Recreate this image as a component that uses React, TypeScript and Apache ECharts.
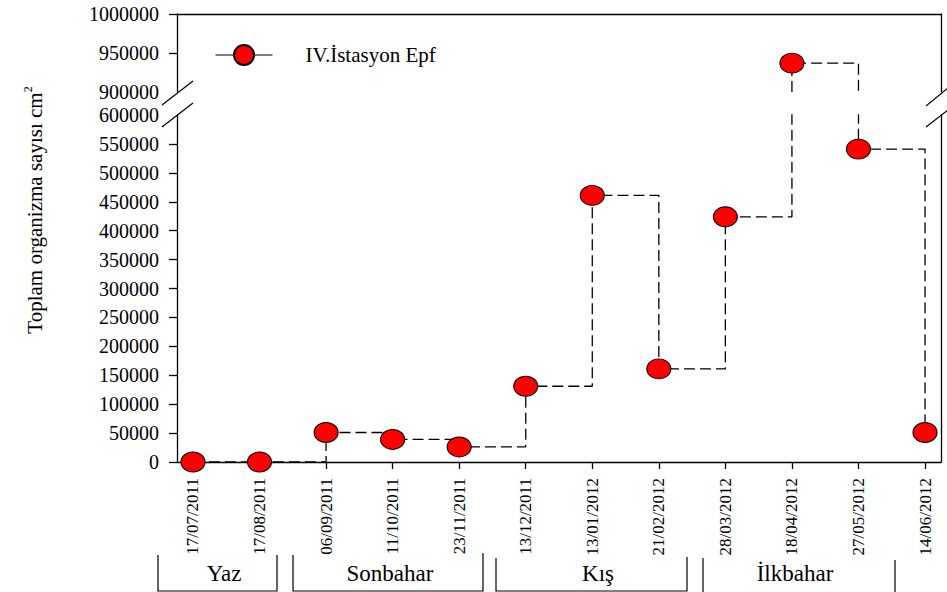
import React, { useEffect, useRef } from "react";
import * as echarts from "echarts";

const dates = [
  "17/07/2011", "17/08/2011", "06/09/2011", "11/10/2011", "23/11/2011", "13/12/2011",
  "13/01/2012", "21/02/2012", "28/03/2012", "18/04/2012", "27/05/2012", "14/06/2012",
];
const values = [0, 0, 51000, 39000, 26000, 131000, 461000, 161000, 424000, 937000, 541000, 51000];
const upperTickValues = [950000, 1000000];
const lowerTickValues = [0, 50000, 100000, 150000, 200000, 250000, 300000, 350000, 400000, 450000, 500000, 550000];
const seriesName = "IV.İstasyon Epf";
const seasons = ["Yaz", "Sonbahar", "Kış", "İlkbahar"];
const seasonCenters = [224, 390, 598, 795];
const yTitle = "Toplam organizma sayısı cm";
const yTitleSup = "2";

const FONT = "Liberation Serif";
const ELLIPSE = "path://M0,10a12,10 0 1,0 24,0a12,10 0 1,0 -24,0z";

export default function App() {
  const ref = useRef<HTMLDivElement>(null);
  useEffect(() => {
    if (!ref.current) return;
    const chart = echarts.init(ref.current, null, { renderer: "svg" });
    const data = values.map((v, i) => [i, v]);
    const idx = dates.map((_, i) => i);
    const xmin = -0.24;
    const xmax = 11.24;
    const lineStyle = { color: "#000", width: 1.3, type: [11, 5] as any };
    const itemStyle = { color: "#ff0000", borderColor: "#000", borderWidth: 1 };
    const axisLineStyle = { color: "#000", width: 1.3 };

    const brackets = [
      [[158, 555], [158, 591], [277, 591], [277, 555]],
      [[293, 555], [293, 591], [483, 591], [483, 553]],
      [[496, 558], [496, 591], [687, 591], [687, 557]],
      [[703, 558], [703, 593]],
      [[895, 560], [895, 593]],
    ];

    const graphics: any[] = [];
    brackets.forEach((pts) =>
      graphics.push({
        type: "polyline",
        shape: { points: pts },
        style: { stroke: "#000", fill: "none", lineWidth: 1.2 },
        silent: true,
      })
    );
    seasons.forEach((s, i) =>
      graphics.push({
        type: "text",
        x: seasonCenters[i],
        y: 573,
        style: {
          text: s,
          fontSize: 23,
          fontFamily: FONT,
          fill: "#000",
          textAlign: "center",
          textVerticalAlign: "middle",
        },
      })
    );
    const breaks = [
      [162, 105, 193, 81],
      [162, 127, 193, 103],
      [926, 106, 948, 88],
      [926, 127, 948, 110],
    ];
    breaks.forEach((b) =>
      graphics.push({
        type: "line",
        shape: { x1: b[0], y1: b[1], x2: b[2], y2: b[3] },
        style: { stroke: "#000", lineWidth: 1.2 },
        silent: true,
      })
    );
    graphics.push({
      type: "text",
      x: 35,
      y: 210,
      rotation: Math.PI / 2,
      style: {
        text: `{a|${yTitle}}{b|${yTitleSup}}`,
        fill: "#000",
        textAlign: "center",
        textVerticalAlign: "middle",
        rich: {
          a: { fontSize: 21, fontFamily: FONT, fill: "#000", lineHeight: 26 },
          b: { fontSize: 12, fontFamily: FONT, fill: "#000", verticalAlign: "top", lineHeight: 26 },
        },
      },
    });

    const yLabel = {
      color: "#000",
      fontSize: 20,
      fontFamily: FONT,
      margin: 18,
      formatter: (v: number) => String(v),
    };

    chart.setOption({
      animation: false,
      backgroundColor: "#fff",
      textStyle: { fontFamily: FONT },
      legend: {
        data: [seriesName],
        left: 215,
        top: 44,
        padding: 0,
        itemWidth: 57,
        itemHeight: 25,
        lineStyle: { type: "solid", width: 1, color: "#000" },
        textStyle: { color: "#000", fontSize: 21, fontFamily: FONT, padding: [0, 0, 0, 28] },
      },
      grid: [
        { left: 177, right: 6, top: 14, height: 78 },
        { left: 177, right: 6, top: 115, height: 347 },
      ],
      xAxis: [
        {
          type: "value",
          gridIndex: 0,
          min: xmin,
          max: xmax,
          position: "top",
          axisLine: { show: true, onZero: false, lineStyle: axisLineStyle },
          axisTick: { show: false },
          axisLabel: { show: false },
          splitLine: { show: false },
        },
        {
          type: "value",
          gridIndex: 1,
          min: xmin,
          max: xmax,
          position: "bottom",
          axisLine: { show: true, onZero: false, lineStyle: axisLineStyle },
          axisTick: { show: true, length: 7, customValues: idx, lineStyle: axisLineStyle },
          axisLabel: {
            customValues: idx,
            rotate: 90,
            margin: 16,
            color: "#000",
            fontSize: 17,
            fontFamily: FONT,
            formatter: (v: number) => dates[Math.round(v)] ?? "",
          },
          splitLine: { show: false },
        },
      ],
      yAxis: [
        {
          type: "value",
          gridIndex: 0,
          min: 900000,
          max: 1000000,
          interval: 50000,
          axisLine: { show: true, onZero: false, lineStyle: axisLineStyle },
          axisTick: { show: true, length: 8, customValues: upperTickValues, lineStyle: axisLineStyle },
          axisLabel: yLabel,
          splitLine: { show: false },
        },
        {
          type: "value",
          gridIndex: 1,
          min: 0,
          max: 600000,
          interval: 50000,
          axisLine: { show: true, onZero: false, lineStyle: axisLineStyle },
          axisTick: { show: true, length: 8, customValues: lowerTickValues, lineStyle: axisLineStyle },
          axisLabel: yLabel,
          splitLine: { show: false },
        },
        {
          type: "value",
          gridIndex: 0,
          position: "right",
          min: 900000,
          max: 1000000,
          axisLine: { show: true, onZero: false, lineStyle: axisLineStyle },
          axisTick: { show: false },
          axisLabel: { show: false },
          splitLine: { show: false },
        },
        {
          type: "value",
          gridIndex: 1,
          position: "right",
          min: 0,
          max: 600000,
          axisLine: { show: true, onZero: false, lineStyle: axisLineStyle },
          axisTick: { show: false },
          axisLabel: { show: false },
          splitLine: { show: false },
        },
      ],
      series: [
        {
          name: seriesName,
          type: "line",
          xAxisIndex: 1,
          yAxisIndex: 1,
          data,
          step: "end",
          clip: true,
          symbol: ELLIPSE,
          symbolSize: [24, 20],
          lineStyle,
          itemStyle,
        },
        {
          name: seriesName,
          type: "line",
          xAxisIndex: 0,
          yAxisIndex: 0,
          data,
          step: "end",
          clip: true,
          symbol: ELLIPSE,
          symbolSize: [24, 20],
          lineStyle,
          itemStyle,
        },
      ],
      graphic: graphics,
    });
    return () => chart.dispose();
  }, []);
  return (
    <div
      ref={ref}
      style={{ position: "fixed", left: 0, top: 0, width: 947, height: 592, background: "#fff" }}
    />
  );
}
